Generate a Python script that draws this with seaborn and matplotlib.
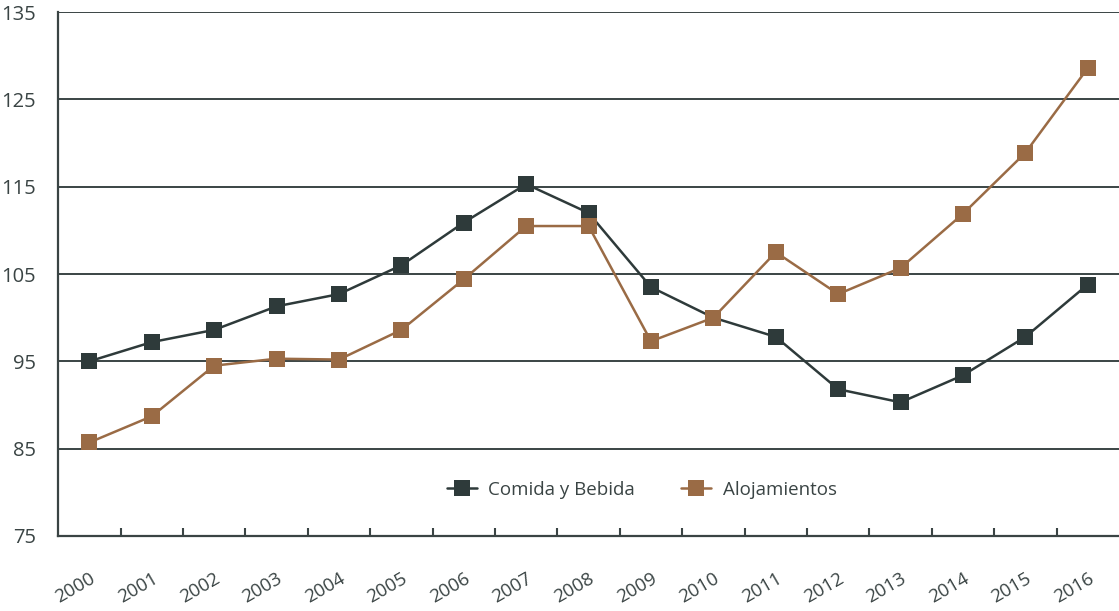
import pandas as pd
import matplotlib.pyplot as plt
import seaborn as sns
from matplotlib.ticker import FixedLocator

years = [str(y) for y in range(2000, 2017)]
comida = [95.0, 97.2, 98.6, 101.3, 102.7, 106.0, 110.9, 115.3, 112.0, 103.5,
          100.0, 97.8, 91.8, 90.3, 93.4, 97.8, 103.8]
alojamientos = [85.7, 88.7, 94.5, 95.3, 95.2, 98.6, 104.4, 110.5, 110.5, 97.3,
                100.0, 107.5, 102.7, 105.7, 111.9, 118.9, 128.6]
series = ['Comida y Bebida', 'Alojamientos']
colors = ['#2e3a3a', '#9a6b45']

df = pd.DataFrame({
    'idx': list(range(len(years))) * 2,
    'valor': comida + alojamientos,
    'serie': [series[0]] * len(years) + [series[1]] * len(years),
})

sns.set_style('white')
plt.rcParams['font.family'] = ['Open Sans', 'DejaVu Sans']
text_color = '#3a4444'

fig = plt.figure(figsize=(11.19, 6.11), dpi=100)
ax = fig.add_axes([0.052, 0.123, 0.948, 0.857])

sns.lineplot(data=df, x='idx', y='valor', hue='serie', style='serie',
             palette=colors, markers=['s', 's'], dashes=False,
             markersize=11, linewidth=1.8, markeredgewidth=0, ax=ax)

ax.set_xlim(-0.5, 16.5)
ax.set_ylim(75, 135)
ax.set_yticks(range(75, 136, 10))
ax.grid(axis='y', color=text_color, linewidth=1.4)
ax.set_axisbelow(True)

ax.set_xticks(range(len(years)))
ax.set_xticklabels(years, rotation=30, ha='right', rotation_mode='anchor')
ax.xaxis.set_minor_locator(FixedLocator([i + 0.5 for i in range(len(years) - 1)]))
ax.tick_params(axis='x', which='major', length=0, pad=24, labelsize=13.5, labelcolor=text_color)
ax.tick_params(axis='x', which='minor', bottom=True, direction='in', length=6,
               width=1.5, color=text_color)
ax.tick_params(axis='y', length=0, pad=16, labelsize=14.5, labelcolor=text_color)

for s in ['top', 'right']:
    ax.spines[s].set_visible(False)
for s in ['left', 'bottom']:
    ax.spines[s].set_color(text_color)
    ax.spines[s].set_linewidth(1.6)

ax.set_xlabel('')
ax.set_ylabel('')
ax.legend(loc='center', bbox_to_anchor=(0.55, 0.088), ncol=2, frameon=False,
          fontsize=13.5, labelcolor=text_color, columnspacing=2.5, handlelength=1.6,
          handletextpad=0.6, markerscale=1.0)

fig.savefig('out.png', dpi=100)
